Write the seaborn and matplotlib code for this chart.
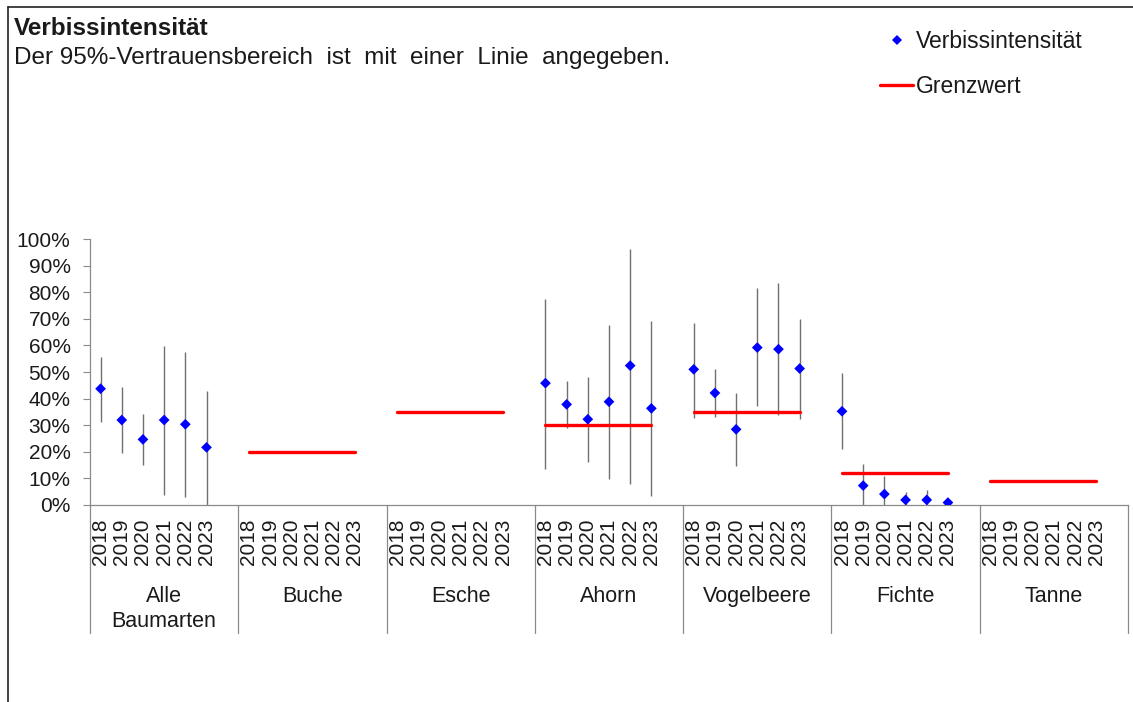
import numpy as np
import pandas as pd
import seaborn as sns
import matplotlib
matplotlib.use('Agg')
import matplotlib.pyplot as plt
from matplotlib.lines import Line2D
from matplotlib.ticker import PercentFormatter

# data (percent)
groups = ['Alle\nBaumarten', 'Buche', 'Esche', 'Ahorn', 'Vogelbeere', 'Fichte', 'Tanne']
years = ['2018', '2019', '2020', '2021', '2022', '2023']

alle_mean = [43.7, 31.9, 24.6, 31.9, 30.3, 21.6]
alle_lo = [31.3, 19.6, 15.0, 3.7, 2.8, 0.0]
alle_hi = [55.8, 44.2, 34.1, 59.9, 57.7, 43.0]

ahorn_mean = [45.8, 37.8, 32.2, 38.8, 52.4, 36.3]
ahorn_lo = [13.5, 28.8, 16.2, 9.8, 7.8, 3.3]
ahorn_hi = [77.4, 46.6, 48.0, 67.7, 96.4, 69.2]

vogel_mean = [51.0, 42.1, 28.4, 59.2, 58.6, 51.3]
vogel_lo = [32.8, 32.9, 14.7, 37.3, 33.8, 32.2]
vogel_hi = [68.4, 51.0, 42.2, 81.6, 83.7, 70.0]

fichte_mean = [35.2, 7.2, 4.0, 1.8, 1.8, 0.8]
fichte_lo = [21.0, 0.0, 0.0, 0.0, 0.0, 0.0]
fichte_hi = [49.5, 15.2, 10.8, 4.9, 5.7, 2.0]

# Grenzwert per group (None = no limit)
grenzwert = [None, 20, 35, 30, 35, 12, 9]

series = {
    'Alle\nBaumarten': (alle_mean, alle_lo, alle_hi),
    'Ahorn': (ahorn_mean, ahorn_lo, ahorn_hi),
    'Vogelbeere': (vogel_mean, vogel_lo, vogel_hi),
    'Fichte': (fichte_mean, fichte_lo, fichte_hi),
}

slots = len(years) + 1  # one empty slot at the end of each group

rows = []
lim_rows = []
for gi, g in enumerate(groups):
    for yi, yr in enumerate(years):
        pos = gi * slots + yi + 0.5
        if g in series:
            m, lo, hi = series[g]
            rows.append({'group': g, 'year': yr, 'pos': pos,
                         'value': m[yi] / 100, 'lo': lo[yi] / 100, 'hi': hi[yi] / 100})
        if grenzwert[gi] is not None:
            lim_rows.append({'group': g, 'pos': pos, 'limit': grenzwert[gi] / 100})
df = pd.DataFrame(rows)
df_lim = pd.DataFrame(lim_rows)

sns.set_theme(style='white')
plt.rcParams['font.family'] = ['Liberation Sans', 'DejaVu Sans']
text_col = '#1a1a1a'
axis_col = '#8a8a8a'

fig = plt.figure(figsize=(11.33, 7.02), dpi=100)
W, H = 1133, 702
ax = fig.add_axes([90 / W, 1 - 504.7 / H, (1128 - 90) / W, (504.7 - 239.3) / H])

# error bars (95% CI)
ax.vlines(df['pos'], df['lo'], df['hi'], color='#707070', lw=1.0, zorder=1)

# Grenzwert lines
sns.lineplot(data=df_lim, x='pos', y='limit', units='group', estimator=None,
             color='#ff0000', lw=2.4, ax=ax, legend=False, zorder=2)

# Verbissintensität points
sns.scatterplot(data=df, x='pos', y='value', marker='D', color='#0000ff',
                s=30, edgecolor='none', ax=ax, legend=False, zorder=3)

n_slots = len(groups) * slots
ax.set_xlim(0, n_slots)
ax.set_ylim(0, 1)
ax.set_yticks(np.linspace(0, 1, 11))
ax.yaxis.set_major_formatter(PercentFormatter(1.0, decimals=0))

tick_pos = [gi * slots + yi + 0.5 for gi in range(len(groups)) for yi in range(len(years))]
ax.set_xticks(tick_pos)
ax.set_xticklabels(years * len(groups), rotation=90, va='top', ha='center')
ax.set_xlabel('')
ax.set_ylabel('')

ax.tick_params(axis='y', left=True, length=5, width=0.8, color=axis_col,
               labelsize=15, labelcolor=text_col, pad=9)
ax.tick_params(axis='x', bottom=False, length=0, labelsize=15,
               labelcolor=text_col, pad=10)

for side in ['top', 'right']:
    ax.spines[side].set_visible(False)
for side in ['left', 'bottom']:
    ax.spines[side].set_color(axis_col)
    ax.spines[side].set_linewidth(0.9)

# group separators and labels below the axis
trans = ax.get_xaxis_transform()
for gi in range(len(groups) + 1):
    ax.plot([gi * slots, gi * slots], [0, -0.4834], transform=trans,
            color=axis_col, lw=0.9, clip_on=False)
for gi, g in enumerate(groups):
    ax.text(gi * slots + slots / 2, -0.305, g, transform=trans, ha='center', va='top',
            fontsize=15.5, color=text_col, linespacing=1.3)

# titles
fig.text(14 / W, 1 - 17 / H, 'Verbissintensität', fontsize=17.5, fontweight='bold',
         color=text_col, va='top', ha='left')
fig.text(14 / W, 1 - 47 / H, 'Der 95%-Vertrauensbereich  ist  mit  einer  Linie  angegeben.',
         fontsize=17.5, color=text_col, va='top', ha='left')

# legend
handles = [
    Line2D([], [], marker='D', color='#0000ff', linestyle='none', markersize=5.5,
           markeredgewidth=0),
    Line2D([], [], color='#ff0000', lw=2.4),
]
fig.legend(handles, ['Verbissintensität', 'Grenzwert'], loc='upper left',
           bbox_to_anchor=(880 / W, 1 - 30 / H), frameon=False, fontsize=16.5,
           handlelength=1.45, handletextpad=0.1, labelspacing=0.95, borderpad=0,
           borderaxespad=0, labelcolor=text_col)

# outer frame (left and top edges)
fig.add_artist(Line2D([8 / W, 8 / W], [0, 1 - 7 / H], color='#222222', lw=1.2,
                      transform=fig.transFigure))
fig.add_artist(Line2D([8 / W, 1], [1 - 7 / H, 1 - 7 / H], color='#222222', lw=1.2,
                      transform=fig.transFigure))

fig.savefig('out.png', dpi=100)
